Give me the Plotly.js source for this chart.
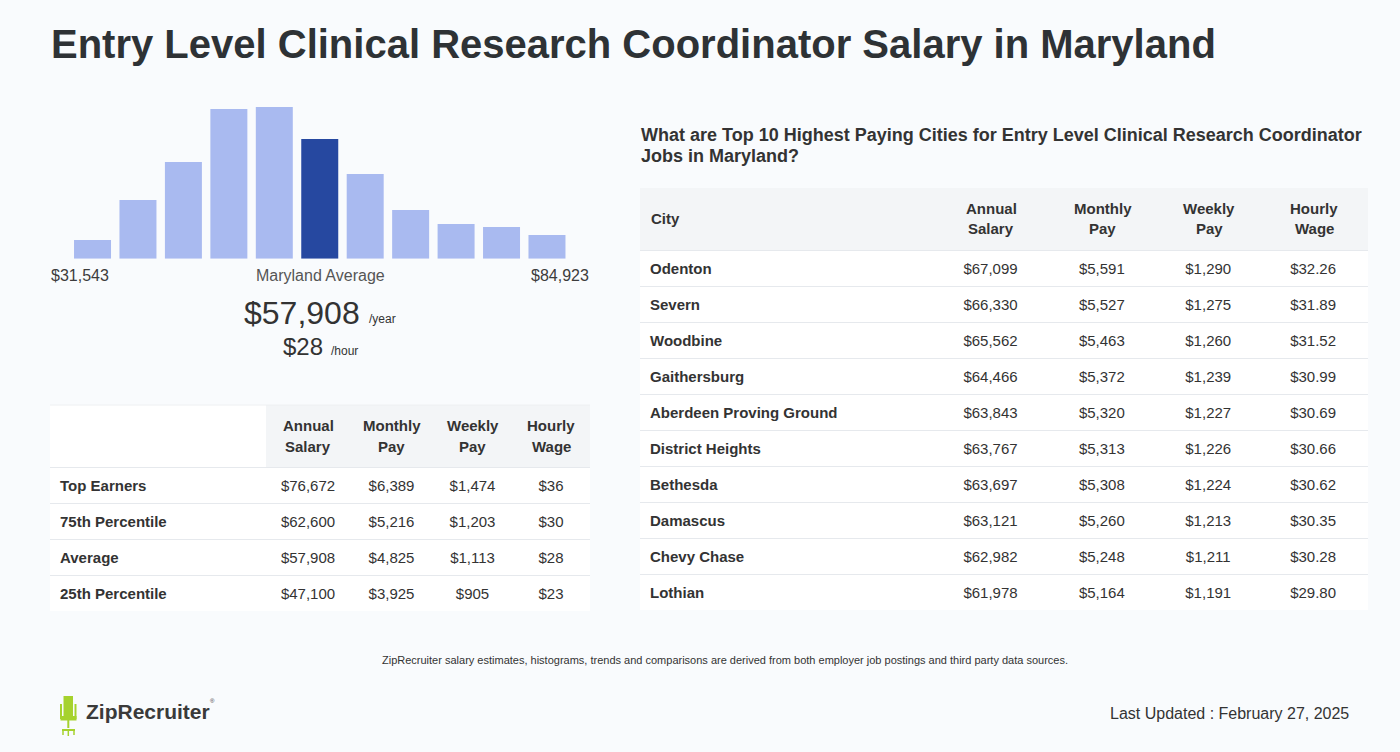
<!DOCTYPE html>
<html>
<head>
<meta charset="utf-8">
<script src="https://cdn.plot.ly/plotly-3.0.1.min.js"></script>
<style>
html,body{margin:0;padding:0;background:#f9fbfd;}
#chart{width:1400px;height:752px;}
</style>
</head>
<body>
<div id="chart"></div>
<script>
// ---------- data ----------
const binHeights = [18.7, 58.7, 96.7, 149.7, 151.7, 119.7, 84.7, 48.7, 34.7, 31.7, 23.7];
const avgBin = 5;
const rangeLow = 31543;
const rangeHigh = 84923;
const avgAnnual = 57908;
const avgHourly = 28;

const summaryLabels = ['Top Earners', '75th Percentile', 'Average', '25th Percentile'];
const summaryAnnual = [76672, 62600, 57908, 47100];
const summaryMonthly = [6389, 5216, 4825, 3925];
const summaryWeekly = [1474, 1203, 1113, 905];
const summaryHourly = [36, 30, 28, 23];

const cities = ['Odenton', 'Severn', 'Woodbine', 'Gaithersburg', 'Aberdeen Proving Ground',
  'District Heights', 'Bethesda', 'Damascus', 'Chevy Chase', 'Lothian'];
const cityAnnual = [67099, 66330, 65562, 64466, 63843, 63767, 63697, 63121, 62982, 61978];
const cityMonthly = [5591, 5527, 5463, 5372, 5320, 5313, 5308, 5260, 5248, 5164];
const cityWeekly = [1290, 1275, 1260, 1239, 1227, 1226, 1224, 1213, 1211, 1191];
const cityHourly = [32.26, 31.89, 31.52, 30.99, 30.69, 30.66, 30.62, 30.35, 30.28, 29.80];

const payHeaders = [['Annual', 'Salary'], ['Monthly', 'Pay'], ['Weekly', 'Pay'], ['Hourly', 'Wage']];
const cityHeader = 'City';

const titleText = 'Entry Level Clinical Research Coordinator Salary in Maryland';
const cityTitle1 = 'What are Top 10 Highest Paying Cities for Entry Level Clinical Research Coordinator';
const cityTitle2 = 'Jobs in Maryland?';
const footnote = 'ZipRecruiter salary estimates, histograms, trends and comparisons are derived from both employer job postings and third party data sources.';
const updated = 'Last Updated : February 27, 2025';

// ---------- helpers ----------
const W = 1400, H = 752;
const FONT = 'Liberation Sans, Arial, Helvetica, sans-serif';
const px = x => x / W;
const py = y => 1 - y / H;
const money = n => '$' + n.toLocaleString('en-US');
const bold = s => '<b>' + s + '</b>';

function txt(text, x, baseline, size, color, xanchor, extra) {
  return Object.assign({
    text: text, xref: 'paper', yref: 'paper',
    x: px(x), y: py(baseline - 0.3465 * size),
    xanchor: xanchor || 'left', yanchor: 'middle',
    showarrow: false, borderpad: 0,
    font: {family: FONT, size: size, color: color}
  }, extra || {});
}

const LIGHT = '#a9baf0', DARK = '#2648a0';
const GRID = '#e6e9ed', HEAD = '#f3f5f7';
const TXT = '#333333';

// ---------- traces ----------
const hist = {
  type: 'bar',
  x: binHeights.map((_, i) => i),
  y: binHeights,
  marker: {color: binHeights.map((_, i) => i === avgBin ? DARK : LIGHT)},
  hoverinfo: 'skip',
  xaxis: 'x', yaxis: 'y'
};

const cellCommon = {
  fill: {color: 'rgba(0,0,0,0)'},
  line: {width: 0, color: 'rgba(0,0,0,0)'}
};
const SHIFT = 5; // table text offset

// table geometry (pixels)
const sumX0 = 52, sumWidths = [214, 84, 83, 79, 78];
const cityX0 = 642, cityWidths = [293, 112, 111, 102, 108];
function colCenters(x0, widths) {
  const c = []; let x = x0;
  widths.forEach(w => { c.push(x + w / 2); x += w; });
  return c;
}
const sumTotal = sumWidths.reduce((a, b) => a + b, 0);
const cityTotal = cityWidths.reduce((a, b) => a + b, 0);

const summaryTable = {
  type: 'table',
  domain: {x: [px(sumX0), px(sumX0 + sumTotal)], y: [py(611 + SHIFT), py(405 + SHIFT)]},
  columnwidth: sumWidths,
  header: Object.assign({
    values: ['', '', '', '', ''],
    height: 62,
    font: {family: FONT, size: 15, color: TXT}
  }, cellCommon),
  cells: Object.assign({
    values: [summaryLabels, summaryAnnual, summaryMonthly, summaryWeekly, summaryHourly],
    format: ['', ',.0f', ',.0f', ',.0f', ',.0f'],
    prefix: ['', '$', '$', '$', '$'],
    align: ['left', 'center', 'center', 'center', 'center'],
    height: 36,
    font: {family: FONT, size: 15, color: TXT, weight: ['bold', 'normal', 'normal', 'normal', 'normal']}
  }, cellCommon)
};

const cityTable = {
  type: 'table',
  domain: {x: [px(cityX0), px(cityX0 + cityTotal)], y: [py(610 + SHIFT), py(188 + SHIFT)]},
  columnwidth: cityWidths,
  header: Object.assign({
    values: ['', '', '', '', ''],
    height: 62,
    font: {family: FONT, size: 15, color: TXT}
  }, cellCommon),
  cells: Object.assign({
    values: [cities, cityAnnual, cityMonthly, cityWeekly, cityHourly],
    format: ['', ',.0f', ',.0f', ',.0f', ',.2f'],
    prefix: ['', '$', '$', '$', '$'],
    align: ['left', 'center', 'center', 'center', 'center'],
    height: 36,
    font: {family: FONT, size: 15, color: TXT, weight: ['bold', 'normal', 'normal', 'normal', 'normal']}
  }, cellCommon)
};

// ---------- shapes ----------
const shapes = [];
function rect(x0, y0, x1, y1, color) {
  shapes.push({type: 'rect', xref: 'paper', yref: 'paper', layer: 'below',
    x0: px(x0), x1: px(x1), y0: py(y0), y1: py(y1),
    fillcolor: color, line: {width: 0}});
}
function hline(x0, x1, y, color) {
  shapes.push({type: 'line', xref: 'paper', yref: 'paper', layer: 'below',
    x0: px(x0), x1: px(x1), y0: py(y), y1: py(y),
    line: {color: color, width: 1}});
}
// summary table background
rect(50, 405, 590, 611, '#ffffff');
rect(266, 405, 590, 467, HEAD);
hline(50, 590, 405, '#eef0f2');
hline(50, 590, 467.5, GRID);
summaryLabels.slice(1).forEach((_, i) => hline(50, 590, 503.5 + 36 * i, GRID));
// city table background
rect(640, 188, 1368, 610, '#ffffff');
rect(640, 188, 1368, 250, HEAD);
hline(640, 1368, 250.5, GRID);
cities.slice(1).forEach((_, i) => hline(640, 1368, 286.5 + 36 * i, GRID));

// ZipRecruiter chair logo
const GREEN = '#a6d22e';
function prect(x0, y0, x1, y1) {
  shapes.push({type: 'rect', xref: 'paper', yref: 'paper', layer: 'above',
    x0: px(x0), x1: px(x1), y0: py(y0), y1: py(y1), fillcolor: GREEN, line: {width: 0}});
}
function pline(x0, y0, x1, y1, w) {
  shapes.push({type: 'line', xref: 'paper', yref: 'paper', layer: 'above',
    x0: px(x0), x1: px(x1), y0: py(y0), y1: py(y1), line: {color: GREEN, width: w}});
}
prect(63.5, 696, 73, 716);
pline(61, 704, 61, 719, 2);
pline(75.5, 704, 75.5, 719, 2);
prect(60.5, 716, 76.5, 720.5);
prect(67.3, 720, 69.3, 728);
pline(62, 730, 75, 730, 2);
pline(63, 730, 63, 735, 1.5);
pline(68.3, 730, 68.3, 736, 1.5);
pline(74, 730, 74, 735, 1.5);

// ---------- annotations ----------
const annotations = [
  txt(bold(titleText), 50, 57.7, 40, '#2e3235'),
  txt(money(rangeLow), 50, 281, 16, '#3c3c3c'),
  txt('Maryland Average', 320, 281, 16, '#555555', 'center'),
  txt(money(rangeHigh), 590, 281, 16, '#3c3c3c', 'right'),
  txt(money(avgAnnual), 360.5, 324, 32, TXT, 'right'),
  txt('/year', 368, 323, 12, TXT),
  txt(money(avgHourly), 323.5, 355, 24, TXT, 'right'),
  txt('/hour', 330, 355, 12, TXT),
  txt(bold(cityTitle1), 640, 141.7, 18, TXT),
  txt(bold(cityTitle2), 640, 162.5, 18, TXT),
  txt(footnote, 725, 664, 11, TXT, 'center'),
  txt(bold('ZipRecruiter'), 85, 719, 21, '#3a3a3a'),
  txt('®', 209, 703, 6, '#3a3a3a'),
  txt(updated, 1350, 719.5, 16, TXT, 'right')
];
// table headers (centered two-line labels)
const sumCenters = colCenters(sumX0, sumWidths);
const cityCenters = colCenters(cityX0, cityWidths);
payHeaders.forEach((h, i) => {
  annotations.push(txt(bold(h[0]), sumCenters[i + 1], 430.7, 15, TXT, 'center'));
  annotations.push(txt(bold(h[1]), sumCenters[i + 1], 451.3, 15, TXT, 'center'));
  annotations.push(txt(bold(h[0]), cityCenters[i + 1], 213.3, 15, TXT, 'center'));
  annotations.push(txt(bold(h[1]), cityCenters[i + 1], 234, 15, TXT, 'center'));
});
annotations.push(txt(bold(cityHeader), 650, 224, 15, TXT));

const layout = {
  width: W, height: H,
  margin: {l: 0, r: 0, t: 0, b: 0, pad: 0},
  paper_bgcolor: '#f9fbfd',
  plot_bgcolor: 'rgba(0,0,0,0)',
  showlegend: false,
  bargap: 0.186,
  xaxis: {domain: [px(69.8), px(569.7)], range: [-0.5, 10.5], visible: false, fixedrange: true},
  yaxis: {domain: [py(258.7), py(106.9)], range: [0, 151.7], visible: false, fixedrange: true},
  shapes: shapes,
  annotations: annotations,
  font: {family: FONT}
};

Plotly.newPlot('chart', [hist, summaryTable, cityTable], layout, {staticPlot: true, displayModeBar: false});
</script>
</body>
</html>
